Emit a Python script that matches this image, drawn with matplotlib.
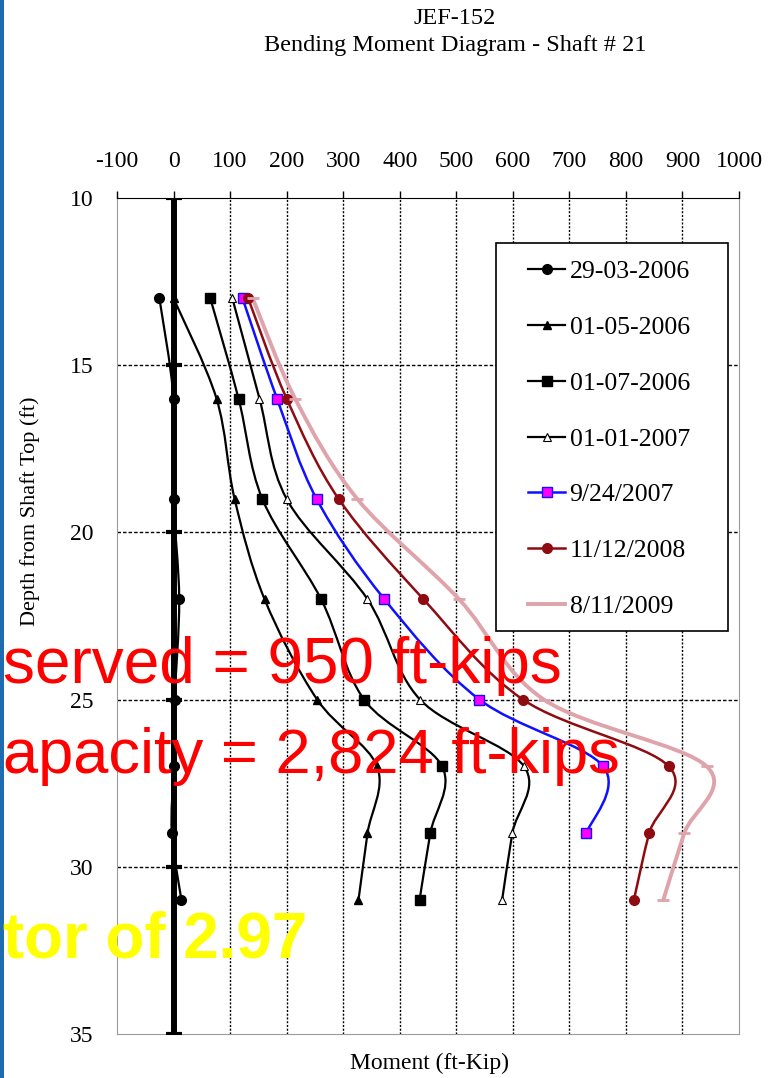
import matplotlib.pyplot as plt
import numpy as np
from matplotlib.path import Path
from matplotlib.patches import PathPatch, Rectangle
from matplotlib.lines import Line2D

plt.rcParams["axes.unicode_minus"] = False

# gauge depths (ft) and bending moments (ft-kip) per reading
depth = [13, 16, 19, 22, 25, 27, 29, 31]
m_290306 = [-25, 0, 0, 10, 2, 0, -3, 14]
m_010506 = [0, 76, 108, 161, 254, 360, 343, 327]
m_010706 = [65, 115, 157, 261, 337, 475, 454, 435]
m_010107 = [104, 152, 200, 343, 436, 620, 599, 581]
depth_0907 = [13, 16, 19, 22, 25, 27, 29]
m_092407 = [122, 183, 253, 373, 541, 760, 730]
m_111208 = [132, 200, 292, 442, 618, 876, 841, 814]
m_081109 = [140, 215, 325, 505, 655, 943, 903, 866]

# shaft reference line
shaft_depth = [10, 15, 20, 25, 30, 35]
shaft_moment = [0, 0, 0, 0, 0, 0]

x_ticks = [-100, 0, 100, 200, 300, 400, 500, 600, 700, 800, 900, 1000]
y_ticks = [10, 15, 20, 25, 30, 35]

serif = "Liberation Serif"
W, H = 775, 1078


def smooth_path(xs, ys):
    # Excel-style smoothed line: Catmull-Rom turned into cubic Bezier segments
    pts = np.column_stack([xs, ys]).astype(float)
    verts = [pts[0]]
    codes = [Path.MOVETO]
    n = len(pts)
    for i in range(n - 1):
        p0 = pts[i - 1] if i > 0 else pts[i]
        p1 = pts[i]
        p2 = pts[i + 1]
        p3 = pts[i + 2] if i + 2 < n else pts[i + 1]
        verts += [p1 + (p2 - p0) / 6, p2 - (p3 - p1) / 6, p2]
        codes += [Path.CURVE4] * 3
    return Path(verts, codes)


fig = plt.figure(figsize=(W / 100, H / 100), dpi=100)
ax = fig.add_axes([117 / W, 1 - 1034 / H, 622 / W, 836 / H])

ax.set_xlim(-100, 1000)
ax.set_ylim(35, 10)

# grid
for xv in x_ticks[1:-1]:
    ax.axvline(xv, color="black", lw=1, ls=(0, (1.5, 1.2)), zorder=1)
for yv in y_ticks[1:-1]:
    ax.axhline(yv, color="black", lw=1, ls=(0, (2.5, 1.5)), zorder=1)

# shaft
ax.plot(shaft_moment, shaft_depth, color="black", lw=4.3, marker="_",
        ms=11, mew=3, zorder=3)

series = [
    ("29-03-2006", depth, m_290306, dict(color="black", lw=1.6),
     dict(marker="o", ms=7, mfc="black", mec="black")),
    ("01-05-2006", depth, m_010506, dict(color="black", lw=1.6),
     dict(marker="^", ms=6, mfc="black", mec="black")),
    ("01-07-2006", depth, m_010706, dict(color="black", lw=1.6),
     dict(marker="s", ms=7, mfc="black", mec="black")),
    ("01-01-2007", depth, m_010107, dict(color="black", lw=1.6),
     dict(marker="^", ms=6, mfc="white", mec="black", mew=0.8)),
    ("9/24/2007", depth_0907, m_092407, dict(color="#1010ff", lw=1.8),
     dict(marker="s", ms=7, mfc="#ff00ff", mec="#1010ff", mew=1)),
    ("11/12/2008", depth, m_111208, dict(color="#8e0b12", lw=1.8),
     dict(marker="o", ms=7, mfc="#8e0b12", mec="#8e0b12")),
    ("8/11/2009", depth, m_081109, dict(color="#dfa3ab", lw=2.8),
     dict(marker="_", ms=8, mfc="#dfa3ab", mec="#dfa3ab", mew=2)),
]

handles = []
for label, d, m, line_kw, mk in series:
    ax.add_patch(PathPatch(smooth_path(m, d), fill=False,
                           edgecolor=line_kw["color"], lw=line_kw["lw"],
                           zorder=4, capstyle="round"))
    ax.plot(m, d, ls="none", zorder=5, **mk)
    handles.append(Line2D([], [], color=line_kw["color"], lw=line_kw["lw"],
                          label=label, **mk))

# axes styling
ax.xaxis.tick_top()
ax.set_xticks(x_ticks)
ax.set_yticks(y_ticks)
ax.tick_params(axis="x", direction="out", length=5, width=1, color="black",
               pad=14, labelsize=17)
ax.tick_params(axis="y", length=0, pad=17, labelsize=17)
for lbl in ax.get_xticklabels() + ax.get_yticklabels():
    lbl.set_fontfamily(serif)
for side in ["left", "right", "bottom"]:
    ax.spines[side].set_color("#9a9a9a")
ax.spines["top"].set_color("black")

ax.set_xlabel("Moment (ft-Kip)", fontsize=17, family=serif)
ax.xaxis.set_label_position("bottom")
ax.xaxis.set_label_coords(0.503, -0.0347)
ax.xaxis.label.set_va("center")
ax.set_ylabel("Depth from Shaft Top (ft)", fontsize=16, family=serif)
ax.yaxis.set_label_coords(-0.14, 0.6256)
ax.yaxis.label.set_va("center")

# legend box and entries
ax.add_patch(Rectangle((496 / W, 1 - 631 / H), 232 / W, 388 / H,
                       transform=fig.transFigure, facecolor="white",
                       edgecolor="black", lw=1.2, zorder=6))
leg = ax.legend(handles=handles, loc="upper left",
                bbox_to_anchor=(528 / W, 1 - 260 / H),
                bbox_transform=fig.transFigure, frameon=False,
                prop={"family": serif, "size": 18.5}, borderpad=0,
                borderaxespad=0, handlelength=1.44, handletextpad=0.18,
                labelspacing=1.28)
leg.set_zorder(7)

# titles
fig.text(455 / W, 1 - 19 / H, "JEF-152", ha="center", va="center",
         fontsize=17.5, family=serif)
fig.text(455 / W, 1 - 46 / H, "Bending Moment Diagram - Shaft # 21",
         ha="center", va="center", fontsize=17.5, family=serif)

# overlay notes
fig.text(3 / W, 1 - 683 / H, "served = 950 ft-kips", ha="left", va="baseline",
         fontsize=46, color="#ff0000", family="Liberation Sans")
fig.text(3 / W, 1 - 773 / H, "apacity = 2,824 ft-kips", ha="left",
         va="baseline", fontsize=45.5, color="#ff0000",
         family="Liberation Sans")
fig.text(3 / W, 1 - 957 / H, "tor of 2.97", ha="left", va="baseline",
         fontsize=45.8, color="#ffff00", weight="bold",
         family="Liberation Sans")

# left window border
fig.add_artist(Rectangle((0, 0), 4 / W, 1, transform=fig.transFigure,
                         facecolor="#1f6bb0", edgecolor="none"))

fig.savefig("out.png", dpi=100)
